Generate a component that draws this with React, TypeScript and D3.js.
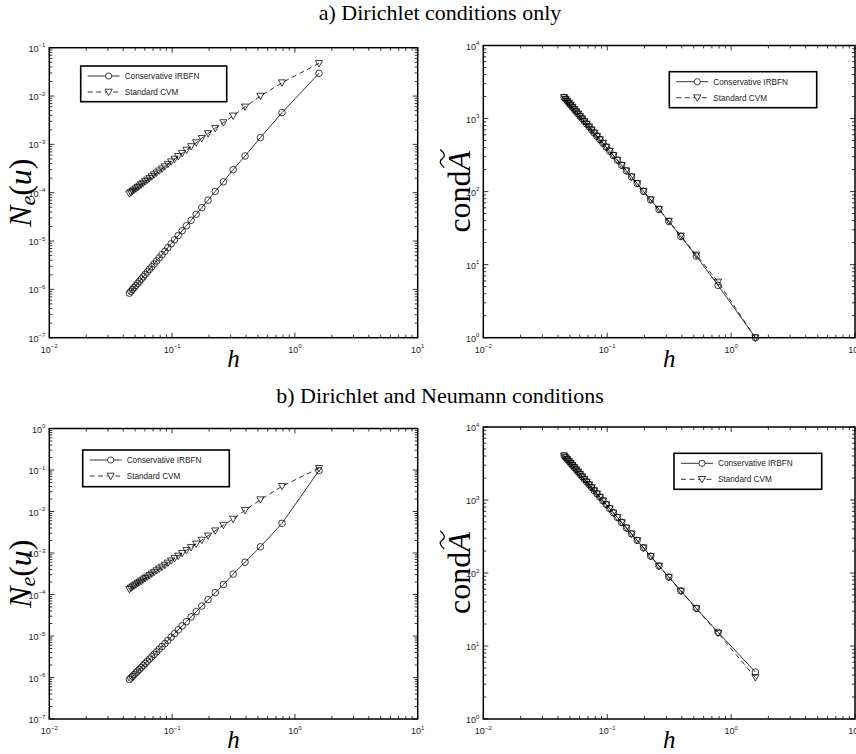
import React from "react";
import * as d3 from "d3";

// mesh sizes h (largest to smallest)
const hValues = [
  1.5708, 0.7854, 0.5236, 0.3927, 0.3142, 0.2618, 0.2244, 0.1963, 0.1745, 0.1571,
  0.1428, 0.1309, 0.1208, 0.1122, 0.1047, 0.0982, 0.0924, 0.0873, 0.0827, 0.0785,
  0.0748, 0.0714, 0.0683, 0.0654, 0.0628, 0.0604, 0.0582, 0.0561, 0.0542, 0.0524,
  0.0507, 0.0491, 0.0476, 0.0462, 0.0449,
];

// a) Dirichlet conditions only
const dirIrbfnErr = [
  2.95e-2, 4.54e-3, 1.38e-3, 5.75e-4, 3.0e-4, 1.68e-4, 1.06e-4, 7.0e-5, 4.91e-5, 3.58e-5,
  2.69e-5, 2.07e-5, 1.63e-5, 1.3e-5, 1.06e-5, 8.74e-6, 7.29e-6, 6.14e-6, 5.22e-6, 4.48e-6,
  3.87e-6, 3.36e-6, 2.94e-6, 2.59e-6, 2.29e-6, 2.04e-6, 1.82e-6, 1.63e-6, 1.47e-6, 1.33e-6,
  1.2e-6, 1.09e-6, 9.96e-7, 9.11e-7, 8.35e-7,
];
const dirCvmErr = [
  4.75e-2, 1.89e-2, 1.0e-2, 5.96e-3, 3.89e-3, 2.83e-3, 2.16e-3, 1.68e-3, 1.336e-3, 1.089e-3,
  9.05e-4, 7.64e-4, 6.55e-4, 5.67e-4, 4.96e-4, 4.38e-4, 3.89e-4, 3.48e-4, 3.13e-4, 2.84e-4,
  2.58e-4, 2.36e-4, 2.16e-4, 1.99e-4, 1.84e-4, 1.71e-4, 1.585e-4, 1.48e-4, 1.38e-4, 1.29e-4,
  1.21e-4, 1.14e-4, 1.074e-4, 1.013e-4, 9.58e-5,
];
const dirIrbfnCond = [
  1.0, 5.2, 13.1, 24.3, 39, 57, 77, 101, 129, 159, 192, 229, 269, 312, 358, 407, 460, 515,
  574, 636, 701, 770, 841, 916, 994, 1075, 1159, 1247, 1337, 1431, 1528, 1628, 1732, 1838, 1948,
];
const dirCvmCond = [
  1.0, 5.8, 13.6, 24.8, 39.5, 57.5, 77.5, 101.5, 129.5, 159.5, 193, 230, 270, 313, 359, 408,
  461, 516, 575, 637, 702, 771, 842, 917, 995, 1076, 1160, 1248, 1338, 1432, 1529, 1629, 1733,
  1839, 1949,
];

// b) Dirichlet and Neumann conditions
const neuIrbfnErr = [
  9.7e-2, 5.2e-3, 1.41e-3, 6.0e-4, 3.1e-4, 1.74e-4, 1.11e-4, 7.5e-5, 5.27e-5, 3.84e-5,
  2.89e-5, 2.22e-5, 1.75e-5, 1.4e-5, 1.14e-5, 9.38e-6, 7.82e-6, 6.58e-6, 5.6e-6, 4.8e-6,
  4.15e-6, 3.61e-6, 3.16e-6, 2.78e-6, 2.46e-6, 2.18e-6, 1.95e-6, 1.75e-6, 1.57e-6, 1.42e-6,
  1.29e-6, 1.17e-6, 1.07e-6, 9.77e-7, 8.96e-7,
];
const neuCvmErr = [
  1.1e-1, 4.06e-2, 1.93e-2, 1.07e-2, 6.6e-3, 4.7e-3, 3.44e-3, 2.6e-3, 2.05e-3, 1.66e-3,
  1.375e-3, 1.156e-3, 9.85e-4, 8.49e-4, 7.4e-4, 6.5e-4, 5.76e-4, 5.14e-4, 4.61e-4, 4.16e-4,
  3.77e-4, 3.44e-4, 3.15e-4, 2.89e-4, 2.66e-4, 2.46e-4, 2.28e-4, 2.12e-4, 1.98e-4, 1.85e-4,
  1.73e-4, 1.63e-4, 1.53e-4, 1.44e-4, 1.34e-4,
];
const neuIrbfnCond = [
  4.4, 15.4, 32.8, 57, 88, 125, 170, 222, 280, 344, 415, 493, 577, 667, 764, 867, 977, 1094,
  1216, 1345, 1481, 1623, 1771, 1925, 2086, 2253, 2427, 2606, 2793, 2985, 3184, 3389, 3600,
  3817, 4043,
];
const neuCvmCond = [
  3.7, 15.0, 32.5, 56.5, 87.5, 124.5, 169.5, 221.5, 279.5, 343.5, 414, 492, 576, 666, 763,
  866, 976, 1093, 1215, 1344, 1480, 1622, 1770, 1924, 2085, 2252, 2426, 2605, 2792, 2984,
  3183, 3388, 3599, 3816, 4042,
];

const seriesNames = ["Conservative IRBFN", "Standard CVM"];
const panelTitles = ["a) Dirichlet conditions only", "b) Dirichlet and Neumann conditions"];
const xDomain = [1e-2, 1e1];

const SANS = "'Liberation Sans', Arial, Helvetica, sans-serif";
const SERIF = "'Liberation Serif', 'Times New Roman', Times, serif";

const isDecade = (v: number) => Math.abs(Math.log10(v) - Math.round(Math.log10(v))) < 1e-9;
const expText = (v: number) => String(Math.round(Math.log10(v))).replace("-", "\u2212");

const tri = (cx: number, cy: number) =>
  `M${cx - 3.6},${cy - 2.8}L${cx + 3.6},${cy - 2.8}L${cx},${cy + 3.6}Z`;

type PanelProps = {
  left: number;
  right: number;
  top: number;
  bottom: number;
  yDomain: number[];
  irbfn: number[];
  cvm: number[];
  kind: "err" | "cond";
  legend: number[]; // x, y, w, h
};

function Panel(p: PanelProps) {
  const x = d3.scaleLog().domain(xDomain).range([p.left, p.right]);
  const y = d3.scaleLog().domain(p.yDomain).range([p.bottom, p.top]);
  const xt = x.ticks();
  const yt = y.ticks();

  const line = d3
    .line<number>()
    .x((_, i) => x(hValues[i]))
    .y((d) => y(d));

  const cx = (p.left + p.right) / 2;
  const cy = (p.top + p.bottom) / 2;
  const [lx, ly, lw, lh] = p.legend;

  return (
    <g>
      {/* ticks, inward on all four sides */}
      <g stroke="#000" strokeWidth={0.8}>
        {xt.map((t, i) => {
          const len = isDecade(t) ? 5 : 3;
          const xx = x(t);
          return (
            <g key={"x" + i}>
              <line x1={xx} x2={xx} y1={p.bottom} y2={p.bottom - len} />
              <line x1={xx} x2={xx} y1={p.top} y2={p.top + len} />
            </g>
          );
        })}
        {yt.map((t, i) => {
          const len = isDecade(t) ? 5 : 3;
          const yy = y(t);
          return (
            <g key={"y" + i}>
              <line x1={p.left} x2={p.left + len} y1={yy} y2={yy} />
              <line x1={p.right} x2={p.right - len} y1={yy} y2={yy} />
            </g>
          );
        })}
      </g>

      {/* tick labels */}
      <g fontFamily={SANS} fill="#222">
        {xt.filter(isDecade).map((t, i) => (
          <text key={"xl" + i} x={x(t)} y={p.bottom + 15} textAnchor="middle" fontSize={9}>
            10
            <tspan fontSize={6} dy={-4.5}>
              {expText(t)}
            </tspan>
          </text>
        ))}
        {yt.filter(isDecade).map((t, i) => (
          <text key={"yl" + i} x={p.left - 4} y={y(t) + 4} textAnchor="end" fontSize={9}>
            10
            <tspan fontSize={6} dy={-4.5}>
              {expText(t)}
            </tspan>
          </text>
        ))}
      </g>

      {/* series */}
      <path d={line(p.cvm) || ""} fill="none" stroke="#000" strokeWidth={0.8} strokeDasharray="5,3.5" />
      <path d={line(p.irbfn) || ""} fill="none" stroke="#000" strokeWidth={0.8} />
      <g fill="none" stroke="#000" strokeWidth={0.75}>
        {p.irbfn.map((v, i) => (
          <circle key={"c" + i} cx={x(hValues[i])} cy={y(v)} r={3.3} />
        ))}
        {p.cvm.map((v, i) => (
          <path key={"t" + i} d={tri(x(hValues[i]), y(v))} />
        ))}
      </g>

      {/* axes box */}
      <rect
        x={p.left}
        y={p.top}
        width={p.right - p.left}
        height={p.bottom - p.top}
        fill="none"
        stroke="#000"
        strokeWidth={1.5}
      />

      {/* legend */}
      <g>
        <rect x={lx} y={ly} width={lw} height={lh} fill="#fff" stroke="#000" strokeWidth={1.6} />
        <line x1={lx + 7} x2={lx + 39} y1={ly + 10} y2={ly + 10} stroke="#000" strokeWidth={0.8} />
        <circle cx={lx + 28} cy={ly + 10} r={3.1} fill="#fff" stroke="#000" strokeWidth={0.75} />
        <line
          x1={lx + 7}
          x2={lx + 39}
          y1={ly + 26}
          y2={ly + 26}
          stroke="#000"
          strokeWidth={0.8}
          strokeDasharray="5,3.5"
        />
        <path d={tri(lx + 28, ly + 26)} fill="#fff" stroke="#000" strokeWidth={0.75} />
        <g fontFamily={SANS} fontSize={8.2} fill="#222">
          <text x={lx + 44} y={ly + 13}>
            {seriesNames[0]}
          </text>
          <text x={lx + 44} y={ly + 29}>
            {seriesNames[1]}
          </text>
        </g>
      </g>

      {/* x label */}
      <text x={cx} y={p.bottom + 29} textAnchor="middle" fontFamily={SERIF} fontStyle="italic" fontSize={25}>
        h
      </text>

      {/* y label */}
      {p.kind === "err" ? (
        <text
          transform={`translate(${p.left - 18},${cy}) rotate(-90)`}
          textAnchor="middle"
          fontFamily={SERIF}
          fontSize={32}
        >
          <tspan fontStyle="italic">N</tspan>
          <tspan fontStyle="italic" fontSize={22} dy={4}>
            e
          </tspan>
          <tspan dy={-4}>(</tspan>
          <tspan fontStyle="italic">u</tspan>
          <tspan>)</tspan>
        </text>
      ) : (
        <g transform={`translate(${p.left - 13},${cy}) rotate(-90)`}>
          <text x={-41} y={0} fontFamily={SERIF} fontSize={32}>
            cond
            <tspan fontStyle="italic">A</tspan>
          </text>
          <path
            d="M24,-26 C28,-31 31,-31 33,-28 C35,-25 38,-25 42,-30"
            fill="none"
            stroke="#000"
            strokeWidth={1.3}
          />
        </g>
      )}
    </g>
  );
}

export default function App() {
  return (
    <svg
      width={856}
      height={754}
      viewBox="0 0 856 754"
      style={{ position: "absolute", left: 0, top: 0, background: "#fff" }}
    >
      <rect width={856} height={754} fill="#fff" />
      <g fontFamily={SERIF} fontSize={22} textAnchor="middle">
        <text x={440} y={20}>
          {panelTitles[0]}
        </text>
        <text x={440} y={403}>
          {panelTitles[1]}
        </text>
      </g>

      <Panel
        left={49.3}
        right={417.7}
        top={47.7}
        bottom={337.7}
        yDomain={[1e-7, 1e-1]}
        irbfn={dirIrbfnErr}
        cvm={dirCvmErr}
        kind="err"
        legend={[80.7, 66, 146, 35.7]}
      />
      <Panel
        left={483.3}
        right={855}
        top={45.5}
        bottom={337.7}
        yDomain={[1e0, 1e4]}
        irbfn={dirIrbfnCond}
        cvm={dirCvmCond}
        kind="cond"
        legend={[669.3, 71.7, 147.4, 36]}
      />
      <Panel
        left={49.3}
        right={417.7}
        top={428.5}
        bottom={719}
        yDomain={[1e-7, 1e0]}
        irbfn={neuIrbfnErr}
        cvm={neuCvmErr}
        kind="err"
        legend={[82.7, 450, 146.6, 36.7]}
      />
      <Panel
        left={483.3}
        right={855}
        top={427}
        bottom={719}
        yDomain={[1e0, 1e4]}
        irbfn={neuIrbfnCond}
        cvm={neuCvmCond}
        kind="cond"
        legend={[674, 453.3, 147.7, 36]}
      />
    </svg>
  );
}
